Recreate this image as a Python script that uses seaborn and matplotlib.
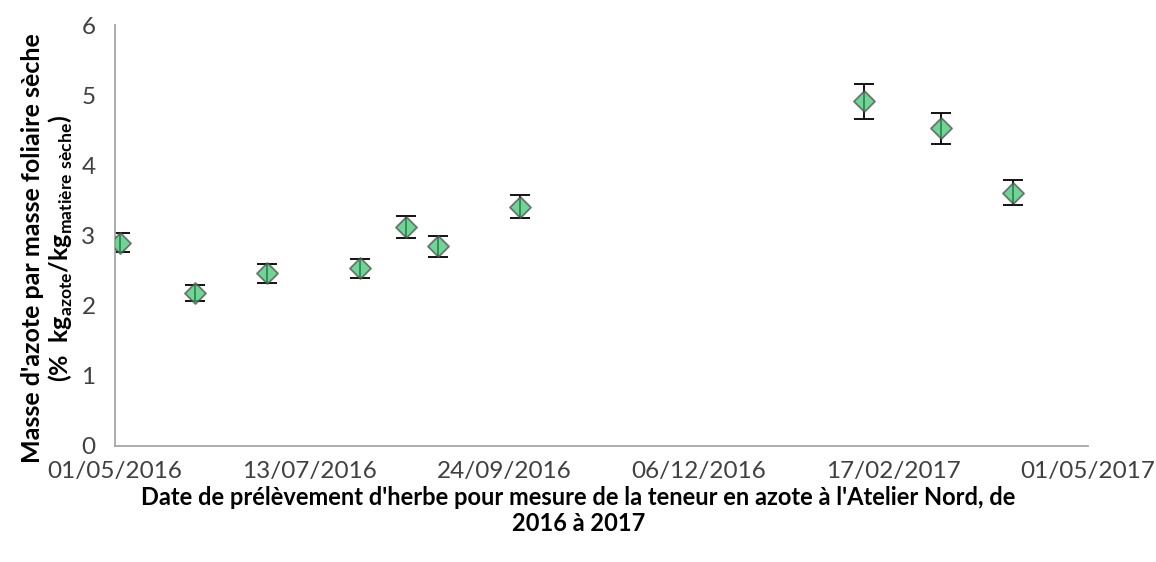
import matplotlib
matplotlib.use("Agg")
import matplotlib.pyplot as plt
import seaborn as sns
import pandas as pd

# Sampling dates and nitrogen content (% of dry matter) with standard errors
dates = ["2016-05-03", "2016-05-31", "2016-06-27", "2016-08-01", "2016-08-18",
         "2016-08-30", "2016-09-30", "2017-02-06", "2017-03-07", "2017-04-03"]
nitrogen = [2.90, 2.18, 2.46, 2.53, 3.12, 2.85, 3.41, 4.91, 4.53, 3.61]
errors = [0.135, 0.11, 0.13, 0.13, 0.155, 0.15, 0.165, 0.245, 0.22, 0.18]

x_ticks = ["01/05/2016", "13/07/2016", "24/09/2016", "06/12/2016",
           "17/02/2017", "01/05/2017"]
y_ticks = [0, 1, 2, 3, 4, 5, 6]

df = pd.DataFrame({"date": pd.to_datetime(dates), "azote": nitrogen, "err": errors})
tick_dates = pd.to_datetime(x_ticks, format="%d/%m/%Y")

sns.set_theme(style="white")
plt.rcParams["font.family"] = ["Lato", "DejaVu Sans"]
plt.rcParams["mathtext.fontset"] = "custom"
plt.rcParams["mathtext.rm"] = "Lato:bold"
plt.rcParams["mathtext.bf"] = "Lato:bold"

fig = plt.figure(figsize=(11.56, 5.62), dpi=100)
ax = fig.add_axes([115 / 1156, 1 - 446 / 562, (1088 - 115) / 1156, (446 - 25) / 562])

ax.errorbar(df["date"], df["azote"], yerr=df["err"], fmt="none",
            ecolor="black", elinewidth=1.3, capsize=7, capthick=1.3, zorder=2)
sns.scatterplot(data=df, x="date", y="azote", marker="D", s=115,
                color=(0.24, 0.76, 0.43), alpha=0.72, edgecolor="#4d4d4d",
                linewidth=1.3, ax=ax, zorder=3, legend=False)

ax.set_xlim(tick_dates[0], tick_dates[-1])
ax.set_ylim(y_ticks[0], y_ticks[-1])
ax.set_xticks(tick_dates)
ax.set_xticklabels(x_ticks)
ax.set_yticks(y_ticks)

for side in ["top", "right"]:
    ax.spines[side].set_visible(False)
for side in ["left", "bottom"]:
    ax.spines[side].set_color("#a6a6a6")
    ax.spines[side].set_linewidth(1.3)

ax.tick_params(axis="both", direction="in", length=9, width=1.3,
               color="#a6a6a6", labelsize=17.5, labelcolor="#404040")
ax.tick_params(axis="x", pad=11)
ax.tick_params(axis="y", pad=14)

ax.set_xlabel("Date de prélèvement d'herbe pour mesure de la teneur en azote à l'Atelier Nord, de\n2016 à 2017",
              fontsize=17, fontweight="bold", color="black", labelpad=2.5, linespacing=1.15)
ax.xaxis.label.set_x(0.476)
ax.set_ylabel("Masse d'azote par masse foliaire sèche\n"
              r"(%  kg$_{\mathrm{azote}}$/kg$_{\mathrm{matière\ sèche}}$)",
              fontsize=18, fontweight="bold", color="black", linespacing=1.15)
ax.yaxis.set_label_coords(-0.041, 0.47)

fig.savefig("out.png", dpi=100, facecolor="white")
